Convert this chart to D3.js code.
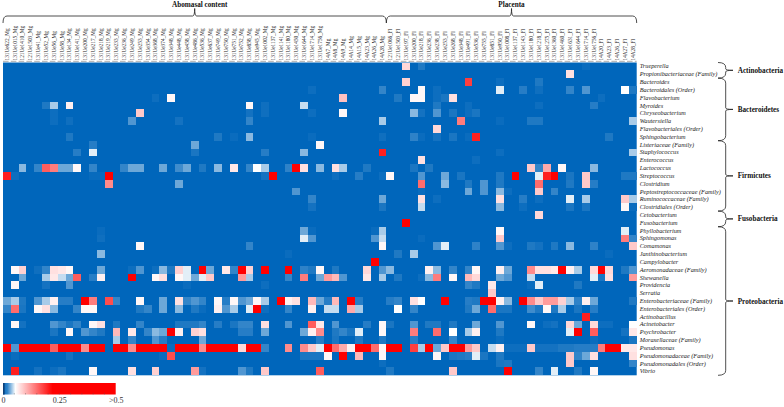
<!DOCTYPE html>
<html>
<head>
<meta charset="utf-8">
<script src="https://cdn.jsdelivr.net/npm/d3@7"></script>
<style>
    html, body { margin: 0; padding: 0; background: #fff; }
    svg { display: block; }
    text { font-family: "Liberation Serif", serif; }
</style>
</head>
<body>
<div id="displaybox"></div>
<script>
const mgSamples = ["131Ue622_Mg", "131Ue1015_Mg", "121Ue1410_Mg", "121Ue1503_Mg", "131Ue41_Mg", "131Ue52_Mg", "131Ue56_Mg", "131Ue58_Mg", "131Ue134_Mg", "131Ue141_Mg", "131Ue200_Mg", "131Ue217_Mg", "131Ue218_Mg", "131Ue219_Mg", "131Ue233_Mg", "131Ue236_Mg", "131Ue249_Mg", "131Ue253_Mg", "131Ue354_Mg", "131Ue368_Mg", "131Ue374_Mg", "131Ue348_Mg", "131Ue448_Mg", "131Ue458_Mg", "131Ue486_Mg", "131Ue536_Mg", "131Ue637_Mg", "131Ue749_Mg", "131Ue750_Mg", "131Ue751_Mg", "131Ue752_Mg", "131Ue858_Mg", "131Ue945_Mg", "131Ue1002_Mg", "131Ue1137_Mg", "131Ue1141_Mg", "131Ue1180_Mg", "131Ue1450_Mg", "131Ue1644_Mg", "131Ue1714_Mg", "131Ue1756_Mg", "14A7_Mg", "14A8_Mg", "14A9_Mg", "14A14_Mg", "14A15_Mg", "14A23_Mg", "14A26_Mg", "14A28_Mg"];
const flSamples = ["121Ue1066_Fl", "121Ue1503_Fl", "131Ue197_Fl", "131Ue200_Fl", "131Ue218_Fl", "131Ue236_Fl", "131Ue238_Fl", "131Ue253_Fl", "131Ue268_Fl", "131Ue348_Fl", "131Ue491_Fl", "131Ue536_Fl", "131Ue755_Fl", "131Ue851_Fl", "131Ue950_Fl", "131Ue1008_Fl", "131Ue1137_Fl", "131Ue1143_Fl", "131Ue1180_Fl", "131Ue1218_Fl", "131Ue1275_Fl", "131Ue1360_Fl", "131Ue1460_Fl", "131Ue1631_Fl", "131Ue1644_Fl", "131Ue1714_Fl", "131Ue1756_Fl", "14A20_Fl", "14A23_Fl", "14A26_Fl", "14A27_Fl", "14A28_Fl"];
const samples = mgSamples.concat(flSamples);

const taxa = ["Trueperella", "Propionibacteriaceae (Family)", "Bacteroides", "Bacteroidales (Order)", "Flavobacterium", "Myroides", "Chryseobacterium", "Wautersiella", "Flavobacteriales (Order)", "Sphingobacterium", "Listeriaceae (Family)", "Staphylococcus", "Enterococcus", "Lactococcus", "Streptococcus", "Clostridium", "Peptostreptococcaceae (Family)", "Ruminococcaceae (Family)", "Clostridiales (Order)", "Cetobacterium", "Fusobacterium", "Phyllobacterium", "Sphingomonas", "Comamonas", "Janthinobacterium", "Campylobacter", "Aeromonadaceae (Family)", "Shewanella", "Providencia", "Serratia", "Enterobacteriaceae (Family)", "Enterobacteriales (Order)", "Actinobacillus", "Acinetobacter", "Psychrobacter", "Moraxellaceae (Family)", "Pseudomonas", "Pseudomonadaceae (Family)", "Pseudomonadales (Order)", "Vibrio"];

// first and last taxon of each phylum
const phyla = [
    ["Actinobacteria", "Trueperella", "Propionibacteriaceae (Family)"],
    ["Bacteroidetes", "Bacteroides", "Sphingobacterium"],
    ["Firmicutes", "Listeriaceae (Family)", "Clostridiales (Order)"],
    ["Fusobacteria", "Cetobacterium", "Fusobacterium"],
    ["Proteobacteria", "Phyllobacterium", "Vibrio"]
];

// per taxon: [sample index, relative abundance], everything else is 0
const abundance = [
    [[51,.08],[53,.012],[74,.004]],
    [[72,.075]],
    [[51,.085],[59,.18],[63,.005],[68,.012]],
    [[39,.005],[48,.02],[53,.06],[55,.005],[63,.05],[66,.015],[68,.006],[72,.02],[74,.025],[79,.055],[80,.012]],
    [[19,.005],[21,.06],[43,.095],[50,.012],[52,.06],[53,.06],[55,.005],[56,.01],[57,.075],[76,.005]],
    [[5,.012],[6,.04],[8,.065],[31,.06],[33,.006],[38,.045],[55,.012],[59,.005],[68,.005],[75,.015]],
    [[6,.005],[17,.09],[31,.008],[33,.006],[39,.005],[43,.06],[52,.035],[53,.008],[55,.025],[57,.01],[59,.005],[60,.01]],
    [[6,.005],[8,.006],[16,.025],[22,.008],[31,.02],[48,.04],[58,.14],[63,.004],[67,.012],[68,.012],[80,.04]],
    [[55,.08]],
    [[8,.012],[27,.012],[29,.004],[31,.035],[39,.004],[48,.006],[52,.018],[53,.004],[55,.008],[57,.01],[59,.004],[60,.2],[77,.012]],
    [[11,.015],[24,.03],[40,.06]],
    [[9,.015],[11,.05],[24,.01],[33,.015],[38,.035],[48,.2],[63,.005],[80,.04]],
    [[53,.075],[60,.005]],
    [[2,.035],[4,.02],[5,.16],[6,.14],[7,.03],[8,.03],[9,.06],[11,.02],[15,.02],[16,.03],[17,.03],[20,.03],[22,.022],[23,.03],[25,.012],[27,.035],[29,.07],[31,.02],[32,.055],[33,.04],[36,.018],[37,.3],[38,.075],[40,.035],[42,.075],[43,.04],[46,.012],[52,.01],[54,.012],[67,.09],[68,.02],[69,.11],[71,.06],[75,.035]],
    [[0,.2],[1,.005],[11,.003],[12,.003],[13,.22],[33,.008],[34,.3],[42,.005],[45,.015],[48,.005],[49,.06],[53,.025],[56,.03],[58,.01],[63,.012],[65,.3],[68,.05],[69,.2],[70,.3],[72,.01],[74,.09],[79,.012],[80,.012]],
    [[13,.13],[22,.03],[53,.15],[56,.035],[59,.012],[61,.025],[63,.012],[68,.15],[72,.012],[74,.09],[75,.015]],
    [[37,.025],[53,.004],[59,.03],[61,.025],[63,.035],[64,.005],[68,.09],[70,.02]],
    [[39,.02],[48,.03],[53,.075],[55,.005],[63,.075],[66,.015],[68,.005],[72,.05],[74,.04],[79,.09],[80,.04]],
    [[39,.008],[48,.01],[53,.045],[63,.035],[66,.005],[72,.01],[74,.01],[79,.06],[80,.004]],
    [[68,.08]],
    [[51,.3]],
    [[12,.004],[38,.03],[39,.004],[47,.004],[48,.04],[63,.06],[79,.05]],
    [[12,.006],[38,.05],[39,.025],[47,.025],[48,.045],[53,.004],[63,.09],[79,.14],[80,.02]],
    [[17,.06],[31,.02],[48,.06],[55,.025],[56,.05],[60,.018],[63,.025],[64,.005],[67,.012],[68,.008],[70,.012],[72,.035],[75,.018],[80,.09]],
    [[12,.035],[36,.004],[50,.012],[52,.04],[77,.004]],
    [[47,.3]],
    [[1,.06],[2,.085],[4,.006],[5,.02],[6,.075],[7,.07],[8,.06],[12,.03],[16,.005],[17,.025],[19,.005],[20,.035],[21,.012],[22,.085],[23,.05],[25,.3],[26,.03],[28,.07],[29,.02],[30,.3],[31,.085],[33,.3],[36,.3],[38,.018],[39,.012],[40,.06],[42,.012],[46,.08],[48,.025],[49,.035],[54,.065],[55,.035],[57,.02],[59,.02],[60,.06],[63,.065],[64,.03],[67,.13],[68,.075],[69,.075],[70,.07],[71,.3],[72,.065],[73,.04],[75,.08],[76,.3],[77,.08],[79,.012],[80,.025]],
    [[2,.03],[5,.04],[6,.07],[7,.045],[8,.03],[9,.16],[11,.015],[12,.065],[16,.3],[19,.06],[20,.075],[22,.06],[23,.05],[24,.03],[25,.05],[26,.09],[30,.12],[31,.04],[36,.02],[38,.14],[40,.03],[41,.12],[42,.1],[43,.025],[46,.07],[48,.04],[50,.012],[53,.005],[54,.035],[55,.14],[57,.06],[59,.1],[60,.08],[63,.03],[64,.025],[67,.045],[75,.05],[76,.01],[77,.075],[80,.12]],
    [[1,.06],[5,.008],[8,.025],[23,.004],[33,.005],[59,.02],[60,.012],[62,.07],[67,.004],[68,.05],[73,.012]],
    [[62,.09]],
    [[0,.03],[1,.04],[2,.012],[4,.025],[5,.04],[6,.065],[7,.015],[8,.015],[10,.3],[11,.14],[13,.17],[14,.02],[17,.06],[20,.03],[22,.075],[23,.02],[24,.025],[25,.02],[27,.06],[28,.015],[29,.06],[30,.025],[31,.03],[32,.06],[33,.04],[35,.3],[36,.065],[37,.075],[39,.1],[40,.03],[41,.015],[42,.1],[44,.3],[45,.015],[49,.015],[50,.02],[52,.075],[53,.055],[56,.3],[59,.015],[60,.012],[61,.3],[62,.3],[63,.065],[64,.035],[66,.3],[67,.13],[68,.09],[69,.12],[70,.12],[71,.085],[72,.04],[73,.018],[74,.065],[75,.03],[80,.012]],
    [[0,.02],[1,.15],[2,.01],[4,.06],[5,.075],[6,.035],[9,.02],[10,.06],[11,.06],[17,.012],[18,.02],[20,.03],[22,.035],[24,.012],[25,.004],[27,.065],[28,.025],[29,.04],[31,.05],[32,.3],[33,.005],[36,.02],[39,.065],[41,.045],[42,.045],[44,.11],[45,.04],[50,.055],[52,.02],[59,.012],[60,.03],[62,.15],[63,.01],[64,.01],[67,.022],[68,.012],[69,.06],[70,.012],[71,.04],[73,.01],[75,.015]],
    [[74,.2]],
    [[1,.06],[2,.008],[6,.025],[7,.02],[8,.01],[9,.02],[11,.06],[12,.075],[14,.012],[17,.02],[22,.012],[23,.012],[24,.012],[25,.02],[27,.015],[29,.01],[30,.02],[31,.02],[33,.075],[36,.025],[39,.16],[40,.07],[42,.025],[46,.015],[48,.06],[49,.01],[52,.025],[54,.012],[55,.012],[57,.012],[60,.03],[63,.025],[67,.06],[69,.005],[70,.008],[72,.08],[73,.03],[75,.08],[76,.005],[77,.005],[80,.055]],
    [[6,.01],[8,.06],[10,.025],[11,.02],[12,.012],[14,.1],[16,.07],[18,.02],[19,.035],[20,.03],[21,.3],[22,.065],[24,.085],[25,.075],[30,.015],[31,.015],[33,.03],[38,.03],[39,.065],[40,.13],[42,.012],[43,.02],[44,.01],[45,.05],[48,.06],[52,.14],[55,.15],[57,.055],[59,.04],[60,.065],[63,.012],[72,.05],[73,.3],[75,.16],[79,.008],[80,.07]],
    [[14,.04],[16,.02],[19,.025],[20,.015],[25,.03],[40,.015],[42,.01],[45,.012],[48,.012],[52,.015],[57,.02],[63,.004],[75,.004],[80,.01]],
    [[0,.3],[1,.025],[2,.3],[3,.3],[4,.3],[5,.3],[6,.16],[7,.3],[8,.3],[9,.3],[10,.13],[11,.3],[12,.3],[14,.3],[15,.3],[16,.13],[17,.3],[18,.3],[19,.3],[20,.3],[21,.004],[22,.3],[23,.3],[24,.3],[25,.13],[26,.3],[27,.3],[28,.3],[29,.3],[30,.08],[31,.3],[32,.22],[33,.02],[36,.13],[38,.13],[39,.09],[40,.05],[41,.3],[42,.15],[43,.11],[44,.065],[45,.3],[46,.3],[47,.15],[48,.06],[49,.3],[50,.3],[52,.18],[53,.04],[54,.3],[55,.03],[56,.09],[57,.3],[58,.3],[59,.12],[60,.09],[62,.045],[63,.065],[64,.005],[65,.005],[66,.005],[67,.09],[68,.008],[69,.008],[70,.008],[71,.012],[72,.012],[73,.015],[74,.015],[75,.015],[76,.14],[77,.3],[78,.3],[79,.07],[80,.07]],
    [[1,.004],[8,.008],[20,.004],[21,.17],[38,.01],[39,.01],[40,.01],[41,.06],[43,.24],[45,.1],[48,.06],[55,.06],[57,.01],[58,.012],[59,.015],[60,.05],[61,.01],[63,.012],[72,.09],[73,.02],[74,.03],[75,.075],[80,.075]],
    [[48,.005],[63,.01],[64,.012],[72,.09],[80,.02]],
    [[1,.2],[4,.008],[6,.005],[7,.01],[11,.06],[16,.075],[19,.085],[24,.12],[25,.008],[30,.025],[31,.012],[33,.09],[40,.16],[49,.012],[57,.09],[64,.3],[68,.02],[70,.05],[73,.012],[75,.06]]
];

const legendTicks = [0, 0.25, 0.5];
const legendLabels = ["0", "0.25", ">0.5"];

let svg = d3.select("#displaybox")
    .append("svg")
        .attr("width", 784)
        .attr("height", 407);

let x = d3.scaleBand().domain(samples).range([3, 636.7]);
let y = d3.scaleBand().domain(taxa).range([62.5, 375.3]);
let color = d3.scaleLinear()
    .domain([0, 0.02, 0.055, 0.22])
    .range(["#0066bb", "#3385c9", "#ffffff", "#ff0000"])
    .clamp(true);

// background, every cell not listed is zero
svg.append("rect")
    .attr("x", x.range()[0])
    .attr("y", y.range()[0])
    .attr("width", x.range()[1] - x.range()[0])
    .attr("height", y.range()[1] - y.range()[0])
    .style("fill", color(0));

let cells = taxa.flatMap((t, i) => abundance[i].map(c => ({taxon: t, sample: samples[c[0]], value: c[1]})));
svg.append("g").selectAll("rect")
    .data(cells)
    .enter()
    .append("rect")
        .attr("x", d => x(d.sample))
        .attr("y", d => y(d.taxon))
        .attr("width", x.bandwidth())
        .attr("height", y.bandwidth())
        .style("shape-rendering", "crispEdges")
        .style("fill", d => color(d.value));

// sample labels
let topAxis = svg.append("g")
    .attr("transform", "translate(0, 60.5)")
    .call(d3.axisTop(x).tickSize(0).tickPadding(0));
topAxis.select(".domain").remove();
topAxis.selectAll("text")
    .attr("transform", "rotate(-90)")
    .attr("x", 0)
    .attr("y", 0)
    .attr("dy", "0.35em")
    .style("text-anchor", "start")
    .style("font-family", "Liberation Serif")
    .style("font-size", "5.3px")
    .style("fill", "#222");

svg.append("line")
    .attr("x1", x.range()[0])
    .attr("x2", x.range()[1])
    .attr("y1", 61.3)
    .attr("y2", 61.3)
    .style("stroke", "#aaa")
    .style("stroke-dasharray", "5.6 2.2");

// taxon labels
let rightAxis = svg.append("g")
    .attr("transform", "translate(636.7, 0)")
    .call(d3.axisRight(y).tickSize(0).tickPadding(3));
rightAxis.select(".domain").remove();
rightAxis.selectAll("text")
    .style("font-family", "Liberation Serif")
    .style("font-style", "italic")
    .style("font-size", "6.25px")
    .style("fill", "#222");

// brackets
function topBracket(x0, x1, yLine, tipY) {
    let mid = (x0 + x1) / 2;
    let p = d3.path();
    p.moveTo(x0, yLine + 7);
    p.quadraticCurveTo(x0, yLine, x0 + 4, yLine);
    p.lineTo(mid - 2, yLine);
    p.quadraticCurveTo(mid, yLine, mid, tipY);
    p.quadraticCurveTo(mid, yLine, mid + 2, yLine);
    p.lineTo(x1 - 4, yLine);
    p.quadraticCurveTo(x1, yLine, x1, yLine + 7);
    return p.toString();
}

function sideBracket(y0, y1) {
    let mid = (y0 + y1) / 2;
    let p = d3.path();
    p.moveTo(718, y0);
    p.quadraticCurveTo(725.7, y0, 725.7, y0 + 5);
    p.lineTo(725.7, mid - 1.5);
    p.quadraticCurveTo(725.7, mid, 733, mid);
    p.quadraticCurveTo(725.7, mid, 725.7, mid + 1.5);
    p.lineTo(725.7, y1 - 5);
    p.quadraticCurveTo(725.7, y1, 718, y1);
    return p.toString();
}

let groups = [
    ["Abomasal content", mgSamples[0], mgSamples[mgSamples.length - 1], 5],
    ["Placenta", flSamples[0], flSamples[flSamples.length - 1], 0]
];
groups.forEach(function(g) {
    let x0 = x(g[1]);
    let x1 = x(g[2]) + x.bandwidth();
    svg.append("path")
        .attr("d", topBracket(x0, x1, 16, 8.5))
        .style("fill", "none")
        .style("stroke", "#222")
        .style("stroke-width", 0.8);
    svg.append("text")
        .attr("x", (x0 + x1) / 2 + g[3])
        .attr("y", 6.5)
        .style("text-anchor", "middle")
        .style("font-weight", "bold")
        .style("font-size", "7.2px")
        .style("fill", "#111")
        .text(g[0]);
});

phyla.forEach(function(f) {
    let y0 = y(f[1]);
    let y1 = y(f[2]) + y.bandwidth();
    svg.append("path")
        .attr("d", sideBracket(y0, y1))
        .style("fill", "none")
        .style("stroke", "#222")
        .style("stroke-width", 0.8);
    svg.append("text")
        .attr("x", 737.7)
        .attr("y", (y0 + y1) / 2)
        .attr("dy", "0.35em")
        .style("font-weight", "bold")
        .style("font-size", "7.2px")
        .style("fill", "#111")
        .text(f[0]);
});

// colour legend
let legendX = d3.scaleLinear().domain([0, 0.5]).range([3, 115.7]);
let defs = svg.append("defs");
let gradient = defs.append("linearGradient").attr("id", "legendRamp");
gradient.selectAll("stop")
    .data(d3.range(0, 0.501, 0.005))
    .enter()
    .append("stop")
        .attr("offset", d => d / 0.5)
        .attr("stop-color", d => color(d));

svg.append("rect")
    .attr("x", legendX(0))
    .attr("y", 383)
    .attr("width", legendX(0.5) - legendX(0))
    .attr("height", 11.5)
    .style("fill", "url(#legendRamp)");

svg.append("rect")
    .attr("x", legendX(0))
    .attr("y", 383)
    .attr("width", 1.6)
    .attr("height", 11.5)
    .style("fill", "#0d3f78");

let legendAxis = svg.append("g")
    .attr("transform", "translate(0, 394.5)")
    .call(d3.axisBottom(legendX)
        .tickValues(legendTicks)
        .tickFormat((d, i) => legendLabels[i])
        .tickSize(0)
        .tickPadding(3));
legendAxis.select(".domain").remove();
legendAxis.selectAll("text")
    .style("font-family", "Liberation Serif")
    .style("font-size", "8px")
    .style("fill", "#333");

svg.append("g").selectAll("line")
    .data(d3.range(0.05, 0.5, 0.05))
    .enter()
    .append("line")
        .attr("x1", d => legendX(d))
        .attr("x2", d => legendX(d))
        .attr("y1", 393)
        .attr("y2", 394.5)
        .style("stroke", "#555")
        .style("stroke-width", 0.4);
</script>
</body>
</html>
